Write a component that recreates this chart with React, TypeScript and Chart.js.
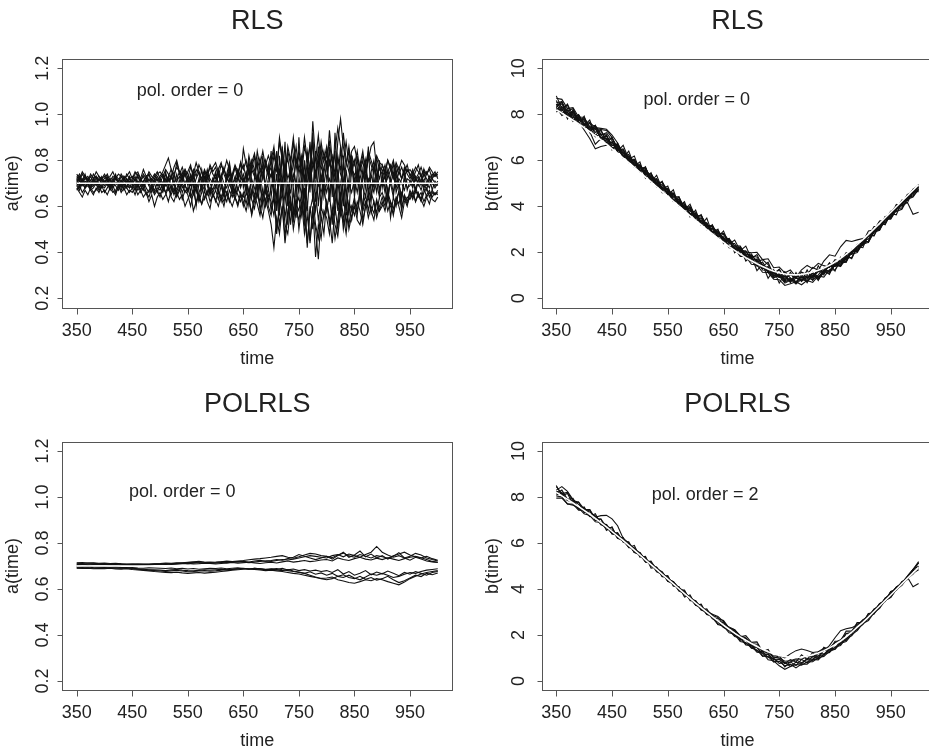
import { useEffect, useRef } from "react";
import { Chart, registerables } from "chart.js";

Chart.register(...registerables);

const FONT = '"Liberation Sans", Arial, Helvetica, sans-serif';

// ---------- time grids ----------
const TIME5 = [
  350, 355, 360, 365, 370, 375, 380, 385, 390, 395,
  400, 405, 410, 415, 420, 425, 430, 435, 440, 445,
  450, 455, 460, 465, 470, 475, 480, 485, 490, 495,
  500, 505, 510, 515, 520, 525, 530, 535, 540, 545,
  550, 555, 560, 565, 570, 575, 580, 585, 590, 595,
  600, 605, 610, 615, 620, 625, 630, 635, 640, 645,
  650, 655, 660, 665, 670, 675, 680, 685, 690, 695,
  700, 705, 710, 715, 720, 725, 730, 735, 740, 745,
  750, 755, 760, 765, 770, 775, 780, 785, 790, 795,
  800, 805, 810, 815, 820, 825, 830, 835, 840, 845,
  850, 855, 860, 865, 870, 875, 880, 885, 890, 895,
  900, 905, 910, 915, 920, 925, 930, 935, 940, 945,
  950, 955, 960, 965, 970, 975, 980, 985, 990, 995,
  1000,
];
const TIME10 = [
  350, 360, 370, 380, 390,
  400, 410, 420, 430, 440, 450, 460, 470, 480, 490,
  500, 510, 520, 530, 540, 550, 560, 570, 580, 590,
  600, 610, 620, 630, 640, 650, 660, 670, 680, 690,
  700, 710, 720, 730, 740, 750, 760, 770, 780, 790,
  800, 810, 820, 830, 840, 850, 860, 870, 880, 890,
  900, 910, 920, 930, 940, 950, 960, 970, 980, 990,
  1000,
];

// ---------- tick labels ----------
const X_TICKS = [350, 450, 550, 650, 750, 850, 950];
const A_TICKS = [0.2, 0.4, 0.6, 0.8, 1.0, 1.2];
const A_TICK_LABELS = ["0.2", "0.4", "0.6", "0.8", "1.0", "1.2"];
const B_TICKS = [0, 2, 4, 6, 8, 10];
const B_TICK_LABELS = ["0", "2", "4", "6", "8", "10"];

// ---------- true parameter values (white lines) ----------
const A_TRUE_TIME = [350, 1000];
const A_TRUE = [0.7, 0.7];
const B_TRUE = [
  8.20, 8.05, 7.90, 7.74, 7.58,
  7.42, 7.25, 7.07, 6.89, 6.70, 6.50, 6.30, 6.10, 5.90, 5.69,
  5.48, 5.27, 5.06, 4.85, 4.64, 4.43, 4.22, 4.01, 3.80, 3.59,
  3.39, 3.19, 2.99, 2.80, 2.61, 2.43, 2.25, 2.08, 1.92, 1.77,
  1.63, 1.50, 1.38, 1.27, 1.18, 1.11, 1.06, 1.03, 1.02, 1.04,
  1.08, 1.14, 1.22, 1.32, 1.44, 1.58, 1.74, 1.92, 2.12, 2.34,
  2.55, 2.78, 3.02, 3.26, 3.50, 3.74, 3.98, 4.22, 4.46, 4.70,
  4.94,
];

// ---------- RLS estimates of a(time) (TIME5) ----------
const RLS_A1 = [
  .72, .74, .71, .73, .72, .70, .72, .73, .71, .72,
  .73, .71, .72, .70, .73, .72, .71, .73, .72, .70,
  .72, .74, .75, .72, .70, .73, .71, .72, .74, .71,
  .73, .75, .78, .81, .76, .74, .77, .75, .72, .76,
  .74, .71, .76, .73, .78, .75, .72, .70, .74, .77,
  .79, .75, .72, .76, .73, .70, .74, .78, .75, .72,
  .85, .78, .74, .80, .76, .71, .78, .84, .77, .73,
  .80, .86, .75, .90, .81, .72, .84, .78, .88, .76,
  .82, .74, .86, .80, .72, .97, .80, .91, .78, .84,
  .76, .93, .80, .72, .88, .98, .86, .78, .84, .74,
  .80, .72, .78, .84, .75, .80, .86, .88, .76, .72,
  .78, .74, .80, .76, .72, .78, .74, .77, .73, .76,
  .74, .72, .75, .78, .73, .71, .74, .76, .72, .74,
  .73,
];
const RLS_A2 = [
  .68, .66, .64, .67, .65, .68, .66, .67, .69, .66,
  .67, .65, .68, .66, .67, .69, .66, .68, .65, .67,
  .66, .68, .65, .67, .64, .66, .62, .65, .60, .64,
  .66, .63, .65, .68, .64, .62, .66, .63, .65, .60,
  .63, .66, .58, .62, .65, .61, .64, .67, .62, .65,
  .63, .60, .65, .62, .66, .63, .60, .64, .61, .66,
  .62, .58, .64, .56, .62, .66, .60, .55, .63, .58,
  .52, .42, .55, .48, .60, .44, .56, .62, .50, .58,
  .54, .62, .48, .56, .45, .60, .38, .52, .46, .58,
  .55, .48, .60, .52, .47, .58, .53, .62, .50, .56,
  .60, .54, .52, .58, .62, .55, .60, .57, .63, .58,
  .62, .58, .64, .60, .57, .63, .60, .55, .62, .64,
  .63, .66, .62, .65, .63, .60, .64, .66, .63, .62,
  .64,
];
const RLS_A3 = [
  .70, .72, .69, .71, .70, .68, .71, .69, .72, .70,
  .71, .69, .72, .68, .70, .71, .69, .73, .70, .68,
  .71, .69, .73, .70, .68, .71, .69, .72, .70, .66,
  .70, .73, .69, .72, .67, .74, .70, .68, .73, .69,
  .72, .66, .74, .69, .71, .67, .73, .70, .66, .72,
  .68, .74, .70, .65, .72, .76, .69, .73, .67, .71,
  .74, .68, .77, .64, .72, .80, .66, .74, .70, .62,
  .68, .76, .58, .82, .66, .74, .60, .79, .68, .55,
  .72, .64, .80, .58, .76, .66, .84, .60, .74, .68,
  .80, .62, .74, .84, .58, .70, .78, .64, .72, .82,
  .66, .76, .62, .72, .80, .64, .74, .68, .78, .66,
  .72, .66, .76, .70, .64, .74, .68, .72, .76, .67,
  .71, .68, .73, .69, .72, .70, .67, .72, .70, .69,
  .71,
];
const RLS_A4 = [
  .73, .71, .74, .72, .73, .71, .74, .72, .73, .71,
  .72, .74, .71, .73, .72, .74, .73, .71, .74, .72,
  .73, .71, .74, .72, .76, .73, .74, .71, .73, .75,
  .72, .74, .70, .73, .76, .72, .79, .74, .77, .73,
  .75, .78, .72, .76, .74, .70, .75, .73, .77, .74,
  .72, .76, .79, .74, .71, .75, .73, .77, .72, .75,
  .78, .72, .82, .76, .73, .84, .77, .72, .80, .75,
  .73, .82, .77, .70, .85, .76, .81, .72, .78, .86,
  .74, .80, .70, .84, .76, .88, .72, .82, .76, .80,
  .86, .78, .82, .74, .80, .76, .92, .80, .75, .82,
  .78, .84, .75, .80, .72, .82, .78, .74, .81, .76,
  .74, .78, .72, .76, .80, .74, .77, .72, .75, .78,
  .73, .76, .72, .74, .77, .73, .75, .72, .74, .73,
  .74,
];
const RLS_A5 = [
  .69, .67, .70, .68, .69, .67, .68, .70, .67, .69,
  .68, .70, .67, .69, .66, .68, .70, .67, .69, .68,
  .69, .67, .70, .66, .68, .65, .67, .69, .66, .68,
  .67, .70, .66, .69, .65, .68, .64, .67, .70, .66,
  .68, .64, .67, .61, .66, .69, .63, .66, .68, .64,
  .67, .63, .69, .65, .62, .67, .64, .68, .65, .62,
  .66, .61, .68, .63, .59, .66, .62, .68, .60, .65,
  .62, .56, .66, .52, .60, .47, .58, .64, .54, .61,
  .58, .66, .52, .62, .44, .57, .50, .37, .56, .48,
  .62, .55, .44, .60, .50, .63, .56, .48, .60, .54,
  .62, .58, .66, .54, .60, .64, .57, .62, .55, .60,
  .64, .60, .66, .62, .59, .64, .61, .66, .63, .60,
  .66, .63, .67, .64, .66, .62, .65, .67, .64, .66,
  .65,
];
const RLS_A6 = [
  .71, .73, .70, .72, .71, .73, .70, .72, .71, .73,
  .70, .72, .71, .69, .72, .70, .73, .71, .70, .72,
  .70, .72, .69, .71, .73, .70, .72, .69, .71, .73,
  .71, .69, .74, .71, .73, .70, .72, .75, .71, .74,
  .70, .73, .68, .72, .75, .71, .69, .74, .72, .70,
  .74, .70, .73, .77, .71, .74, .68, .72, .76, .73,
  .70, .75, .71, .78, .74, .69, .76, .72, .79, .74,
  .77, .70, .80, .74, .68, .79, .72, .76, .70, .81,
  .76, .82, .72, .78, .70, .80, .74, .86, .70, .77,
  .72, .80, .76, .70, .82, .74, .70, .78, .86, .76,
  .74, .70, .79, .72, .76, .70, .75, .80, .72, .77,
  .76, .72, .75, .78, .73, .70, .75, .72, .77, .74,
  .72, .75, .71, .73, .70, .74, .72, .70, .73, .75,
  .72,
];
const RLS_A7 = [
  .70, .68, .71, .69, .70, .68, .69, .71, .68, .70,
  .69, .71, .68, .70, .69, .67, .70, .68, .71, .69,
  .68, .70, .67, .69, .71, .68, .66, .69, .67, .70,
  .68, .66, .70, .67, .69, .65, .68, .70, .66, .69,
  .67, .70, .65, .68, .62, .66, .69, .65, .68, .66,
  .69, .66, .62, .68, .65, .70, .66, .63, .68, .65,
  .64, .69, .60, .67, .63, .70, .58, .66, .62, .68,
  .58, .66, .48, .62, .70, .55, .64, .52, .66, .60,
  .64, .56, .68, .42, .60, .50, .66, .54, .62, .70,
  .58, .66, .52, .68, .60, .56, .66, .52, .62, .58,
  .64, .56, .68, .60, .65, .58, .66, .62, .57, .64,
  .66, .62, .68, .55, .64, .60, .67, .58, .65, .62,
  .67, .64, .68, .65, .62, .66, .68, .64, .67, .65,
  .67,
];
const RLS_A8 = [
  .71, .69, .72, .70, .71, .69, .72, .70, .72, .71,
  .70, .72, .69, .71, .73, .70, .71, .69, .72, .70,
  .71, .73, .70, .72, .69, .71, .74, .70, .72, .69,
  .72, .70, .75, .68, .73, .70, .74, .67, .71, .75,
  .69, .74, .71, .60, .70, .76, .68, .73, .65, .71,
  .75, .68, .72, .66, .74, .79, .70, .66, .73, .68,
  .72, .66, .80, .70, .64, .74, .68, .82, .66, .72,
  .84, .64, .74, .56, .86, .68, .52, .74, .82, .64,
  .90, .70, .58, .78, .66, .92, .62, .74, .86, .64,
  .70, .86, .64, .92, .72, .58, .82, .68, .56, .78,
  .70, .82, .64, .76, .68, .86, .64, .72, .66, .80,
  .68, .76, .64, .72, .79, .66, .70, .62, .74, .70,
  .70, .74, .67, .72, .69, .76, .70, .68, .72, .70,
  .70,
];
const RLS_A9 = [
  .72, .69, .71, .74, .70, .68, .71, .73, .69, .72,
  .70, .73, .69, .71, .74, .70, .68, .72, .70, .73,
  .69, .72, .70, .67, .71, .73, .69, .66, .70, .72,
  .70, .67, .72, .69, .74, .70, .66, .71, .75, .69,
  .66, .71, .74, .68, .63, .70, .75, .69, .65, .72,
  .70, .76, .69, .64, .72, .78, .70, .65, .73, .79,
  .68, .74, .62, .76, .82, .66, .72, .60, .70, .78,
  .64, .74, .84, .60, .70, .88, .62, .78, .56, .72,
  .66, .82, .56, .74, .88, .62, .70, .80, .58, .76,
  .84, .64, .78, .56, .70, .86, .60, .76, .66, .82,
  .64, .76, .70, .58, .80, .68, .62, .78, .70, .64,
  .74, .68, .62, .72, .66, .76, .70, .64, .72, .68,
  .69, .72, .66, .71, .74, .68, .70, .73, .67, .71,
  .69,
];
const RLS_A10 = [
  .67, .69, .66, .68, .70, .67, .65, .68, .66, .69,
  .66, .68, .70, .67, .65, .69, .67, .70, .68, .66,
  .68, .65, .69, .67, .70, .66, .64, .68, .65, .67,
  .64, .68, .66, .62, .67, .70, .65, .68, .63, .67,
  .65, .60, .66, .69, .64, .61, .67, .62, .59, .66,
  .62, .67, .64, .60, .66, .62, .68, .64, .60, .65,
  .60, .66, .63, .57, .65, .61, .56, .64, .68, .60,
  .56, .64, .50, .58, .66, .52, .48, .60, .54, .64,
  .50, .60, .56, .44, .58, .64, .52, .46, .60, .55,
  .62, .52, .58, .46, .54, .64, .50, .58, .52, .60,
  .56, .62, .58, .52, .60, .66, .58, .54, .62, .58,
  .60, .64, .58, .62, .56, .63, .66, .60, .64, .61,
  .64, .67, .62, .66, .63, .68, .64, .61, .66, .65,
  .66,
];
const RLS_A11 = [
  .74, .72, .75, .73, .71, .74, .72, .75, .73, .72,
  .74, .72, .73, .75, .72, .71, .74, .72, .73, .75,
  .72, .75, .73, .71, .74, .72, .75, .73, .72, .74,
  .75, .73, .76, .74, .72, .77, .80, .75, .73, .76,
  .72, .77, .74, .79, .75, .72, .76, .73, .78, .75,
  .77, .73, .78, .75, .80, .76, .72, .77, .74, .79,
  .76, .80, .74, .79, .83, .76, .81, .74, .78, .82,
  .78, .84, .76, .88, .80, .74, .86, .80, .90, .78,
  .84, .78, .90, .80, .86, .76, .82, .78, .88, .80,
  .82, .88, .78, .84, .94, .86, .80, .88, .78, .84,
  .86, .80, .76, .82, .78, .84, .80, .76, .82, .79,
  .78, .75, .80, .77, .74, .79, .76, .80, .78, .75,
  .76, .74, .77, .75, .73, .76, .74, .77, .75, .73,
  .75,
];
const RLS_A12 = [
  .69, .71, .70, .68, .72, .70, .69, .71, .70, .68,
  .71, .70, .68, .72, .70, .69, .71, .70, .68, .71,
  .70, .68, .71, .69, .67, .72, .70, .68, .71, .69,
  .71, .68, .70, .73, .69, .66, .71, .73, .68, .70,
  .73, .69, .70, .66, .72, .68, .71, .76, .70, .67,
  .71, .66, .74, .70, .68, .72, .66, .70, .74, .69,
  .72, .70, .66, .72, .68, .64, .72, .78, .66, .70,
  .74, .68, .64, .76, .72, .62, .70, .66, .74, .70,
  .68, .72, .64, .70, .78, .68, .58, .70, .66, .72,
  .66, .72, .68, .60, .76, .64, .72, .58, .70, .66,
  .72, .66, .74, .68, .64, .72, .70, .66, .74, .68,
  .70, .73, .66, .70, .74, .68, .72, .70, .67, .72,
  .71, .69, .72, .70, .67, .71, .69, .72, .70, .68,
  .70,
];

// ---------- POLRLS estimates of a(time) (TIME10) ----------
const POL_A1 = [
  .712, .711, .713, .712, .710,
  .711, .709, .710, .708, .707, .706, .708, .707, .709, .710,
  .711, .713, .712, .714, .713, .715, .716, .714, .715, .717,
  .716, .718, .715, .717, .719, .716, .714, .717, .720, .722,
  .720, .724, .728, .726, .730, .735, .740, .745, .742, .738,
  .735, .745, .750, .740, .752, .745, .738, .750, .760, .785,
  .760, .748, .738, .745, .735, .742, .755, .748, .735, .728,
  .722,
];
const POL_A2 = [
  .695, .694, .696, .693, .692,
  .693, .691, .690, .692, .689, .688, .686, .684, .682, .680,
  .678, .676, .679, .681, .678, .675, .676, .678, .680, .677,
  .679, .682, .684, .686, .688, .690, .687, .685, .683, .680,
  .682, .679, .676, .672, .668, .665, .660, .655, .650, .646,
  .648, .652, .640, .635, .628, .625, .632, .640, .636, .645,
  .640, .632, .625, .618, .630, .645, .655, .665, .672, .676,
  .680,
];
const POL_A3 = [
  .706, .707, .705, .706, .707,
  .706, .705, .706, .704, .705, .703, .704, .705, .706, .707,
  .708, .709, .707, .708, .710, .711, .709, .710, .712, .711,
  .709, .711, .713, .715, .712, .714, .716, .713, .711, .714,
  .716, .713, .718, .722, .717, .720, .724, .719, .722, .726,
  .728, .722, .735, .728, .724, .732, .738, .730, .726, .734,
  .728, .736, .730, .724, .732, .738, .742, .736, .728, .720,
  .716,
];
const POL_A4 = [
  .692, .691, .692, .690, .691,
  .690, .692, .691, .690, .692, .693, .691, .690, .692, .691,
  .690, .689, .691, .688, .690, .687, .689, .686, .688, .690,
  .689, .691, .688, .690, .692, .689, .687, .690, .688, .686,
  .688, .685, .690, .683, .687, .680, .684, .678, .682, .676,
  .680, .672, .684, .665, .676, .660, .668, .680, .662, .674,
  .666, .678, .668, .658, .672, .664, .676, .668, .660, .672,
  .676,
];
const POL_A5 = [
  .714, .715, .713, .714, .712,
  .713, .711, .712, .710, .709, .710, .708, .709, .707, .708,
  .709, .707, .710, .712, .714, .716, .718, .720, .717, .715,
  .716, .718, .721, .719, .722, .724, .727, .730, .732, .735,
  .738, .742, .745, .738, .734, .740, .748, .755, .752, .745,
  .742, .736, .748, .756, .744, .738, .750, .742, .735, .745,
  .740, .734, .745, .752, .760, .748, .740, .735, .742, .732,
  .725,
];
const POL_A6 = [
  .700, .698, .699, .697, .696,
  .697, .695, .696, .694, .693, .690, .688, .686, .684, .683,
  .682, .680, .683, .685, .682, .680, .679, .681, .684, .682,
  .684, .686, .683, .685, .687, .689, .686, .690, .688, .685,
  .686, .689, .684, .680, .676, .672, .668, .660, .652, .645,
  .640, .645, .655, .650, .660, .648, .640, .652, .665, .660,
  .668, .660, .650, .655, .664, .672, .668, .676, .682, .685,
  .688,
];
const POL_A7 = [
  .708, .709, .708, .710, .709,
  .708, .707, .709, .708, .706, .705, .704, .706, .705, .707,
  .708, .710, .709, .711, .712, .710, .712, .714, .713, .711,
  .712, .715, .713, .716, .718, .720, .717, .722, .725, .721,
  .724, .728, .725, .732, .738, .750, .742, .735, .728, .735,
  .742, .730, .745, .760, .738, .748, .765, .740, .752, .735,
  .745, .730, .742, .758, .735, .725, .738, .730, .722, .718,
  .715,
];
const POL_A8 = [
  .690, .689, .690, .688, .689,
  .688, .690, .687, .686, .688, .685, .683, .681, .679, .676,
  .674, .672, .671, .673, .670, .668, .670, .672, .669, .671,
  .673, .676, .679, .682, .684, .686, .688, .685, .687, .684,
  .686, .683, .680, .685, .678, .674, .668, .675, .664, .670,
  .660, .668, .655, .662, .650, .645, .655, .642, .650, .638,
  .645, .655, .640, .628, .636, .648, .660, .654, .668, .662,
  .670,
];

// ---------- RLS estimates of b(time) (TIME10) ----------
const RLS_B1 = [
  8.50, 8.55, 8.00, 8.14, 7.78,
  7.77, 7.30, 7.37, 7.34, 7.30, 7.00, 6.50, 6.45, 6.00, 5.99,
  5.63, 5.67, 5.16, 5.15, 4.69, 4.78, 4.42, 4.41, 3.90, 3.89,
  3.44, 3.49, 3.14, 3.15, 2.71, 2.68, 2.25, 2.28, 2.27, 1.87,
  1.93, 1.55, 1.28, 1.37, 0.98, 1.06, 0.81, 1.03, 0.87, 1.14,
  0.88, 1.14, 0.92, 1.22, 1.54, 1.38, 1.74, 1.67, 2.07, 2.04,
  2.45, 2.48, 3.02, 3.06, 3.45, 3.49, 3.88, 4.27, 4.26, 4.70,
  4.84,
];
const RLS_B2 = [
  8.10, 8.25, 7.85, 8.04, 7.68,
  7.32, 6.95, 6.50, 6.60, 6.65, 6.80, 6.40, 6.45, 5.90, 5.94,
  5.53, 5.57, 5.16, 5.20, 4.79, 4.73, 4.27, 4.26, 3.90, 3.94,
  3.54, 3.59, 3.19, 3.10, 2.71, 2.78, 2.40, 2.38, 1.97, 2.02,
  1.73, 1.45, 1.58, 1.17, 1.23, 0.91, 1.16, 0.88, 0.72, 0.94,
  0.83, 1.09, 0.87, 1.17, 1.14, 1.48, 1.49, 1.92, 1.92, 1.99,
  2.40, 2.48, 2.92, 3.01, 3.50, 3.54, 3.93, 3.92, 4.36, 4.45,
  4.74,
];
const RLS_B3 = [
  8.60, 8.15, 8.45, 7.94, 7.93,
  7.57, 7.65, 7.42, 7.39, 7.35, 7.10, 6.75, 6.30, 6.25, 5.79,
  5.78, 5.32, 5.31, 4.85, 4.84, 4.53, 4.52, 4.01, 4.00, 3.64,
  3.64, 3.19, 3.19, 2.85, 2.91, 2.53, 2.50, 2.08, 2.07, 1.82,
  1.58, 1.65, 1.23, 1.22, 0.88, 1.01, 0.71, 0.83, 0.62, 0.84,
  0.73, 0.99, 0.82, 1.12, 1.09, 1.48, 1.44, 1.77, 1.77, 2.24,
  2.30, 2.73, 2.72, 3.16, 3.25, 3.69, 3.78, 3.87, 4.31, 4.40,
  4.74,
];
const RLS_B4 = [
  8.40, 8.50, 8.15, 8.24, 7.73,
  7.82, 7.45, 7.52, 7.14, 7.10, 6.65, 6.65, 6.20, 6.20, 5.84,
  5.83, 5.37, 5.36, 5.00, 5.04, 4.63, 4.57, 4.11, 4.10, 3.79,
  3.74, 3.34, 3.29, 2.90, 2.86, 2.58, 2.60, 2.28, 2.02, 2.02,
  1.98, 2.00, 1.68, 1.72, 1.33, 1.36, 1.11, 1.23, 0.92, 1.14,
  1.03, 1.34, 1.22, 1.62, 1.89, 1.83, 2.24, 2.52, 2.47, 2.54,
  2.60, 2.68, 3.12, 3.11, 3.50, 3.54, 3.93, 4.12, 4.51, 4.60,
  4.94,
];
const RLS_B5 = [
  8.30, 7.95, 8.10, 7.69, 7.83,
  7.42, 7.45, 7.02, 7.14, 6.70, 6.80, 6.35, 6.35, 5.95, 5.89,
  5.48, 5.52, 5.11, 5.05, 4.59, 4.58, 4.22, 4.21, 3.85, 3.84,
  3.39, 3.39, 3.04, 3.05, 2.61, 2.63, 2.20, 2.18, 1.82, 1.82,
  1.48, 1.45, 1.13, 1.12, 0.83, 0.81, 0.56, 0.63, 0.72, 0.59,
  0.78, 0.69, 0.97, 0.92, 1.24, 1.23, 1.59, 1.62, 2.02, 2.09,
  2.35, 2.43, 2.87, 2.96, 3.40, 3.49, 3.93, 4.02, 4.16, 3.65,
  3.74,
];
const RLS_B6 = [
  8.45, 8.05, 8.20, 7.84, 7.98,
  7.62, 7.30, 7.37, 6.99, 7.05, 6.65, 6.70, 6.30, 5.95, 5.99,
  5.58, 5.62, 5.26, 4.90, 4.94, 4.53, 4.57, 4.16, 4.10, 3.59,
  3.59, 3.24, 3.24, 2.90, 2.91, 2.48, 2.45, 2.18, 2.17, 1.82,
  1.78, 1.45, 1.48, 1.12, 1.13, 0.91, 0.96, 0.73, 0.87, 0.79,
  0.98, 0.89, 1.17, 1.12, 1.44, 1.43, 1.44, 1.82, 1.92, 2.29,
  2.35, 2.73, 2.87, 3.26, 3.30, 3.64, 3.98, 4.07, 4.41, 4.50,
  4.84,
];
const RLS_B7 = [
  8.20, 8.35, 7.95, 8.09, 7.73,
  7.72, 7.35, 7.47, 7.09, 7.20, 6.85, 6.45, 6.50, 6.05, 6.04,
  5.68, 5.67, 5.21, 5.15, 4.74, 4.78, 4.37, 4.31, 3.85, 3.94,
  3.49, 3.49, 3.04, 3.00, 2.96, 2.58, 2.55, 2.13, 2.12, 1.77,
  1.88, 1.60, 1.68, 1.47, 1.08, 1.26, 0.86, 1.03, 0.92, 1.24,
  1.43, 1.29, 1.52, 1.42, 1.34, 1.68, 1.59, 1.97, 1.92, 2.34,
  2.45, 2.93, 2.97, 3.36, 3.40, 3.79, 3.83, 4.22, 4.36, 4.75,
  4.89,
];
const RLS_B8 = [
  8.70, 8.65, 8.25, 8.29, 7.88,
  7.87, 7.45, 7.37, 6.99, 6.95, 6.55, 6.60, 6.20, 6.15, 5.69,
  5.73, 5.37, 5.36, 4.90, 4.84, 4.58, 4.52, 4.11, 4.05, 3.69,
  3.69, 3.29, 3.24, 2.85, 2.81, 2.53, 2.50, 2.13, 2.07, 2.07,
  1.68, 1.70, 1.33, 1.37, 0.98, 1.06, 0.76, 0.88, 0.67, 0.94,
  0.78, 0.99, 0.87, 1.22, 1.19, 1.53, 1.54, 1.57, 2.02, 2.14,
  2.50, 2.58, 3.02, 3.11, 3.55, 3.64, 4.03, 4.07, 4.46, 4.60,
  4.79,
];
const RLS_B9 = [
  8.35, 8.45, 8.10, 7.74, 7.88,
  7.52, 7.60, 7.22, 7.29, 6.90, 6.95, 6.55, 6.15, 6.15, 5.79,
  5.78, 5.42, 5.41, 5.05, 5.04, 4.68, 4.27, 4.31, 3.95, 3.99,
  3.59, 3.59, 3.14, 3.15, 2.81, 2.83, 2.50, 2.18, 2.22, 1.92,
  1.83, 1.80, 1.43, 1.17, 0.93, 0.96, 0.66, 0.78, 0.92, 0.74,
  0.93, 0.79, 1.02, 1.32, 1.14, 1.43, 1.39, 1.72, 2.07, 2.04,
  2.40, 2.48, 2.92, 3.01, 3.45, 3.44, 3.83, 4.22, 4.26, 4.60,
  4.69,
];
const RLS_B10 = [
  8.20, 8.20, 7.95, 7.94, 7.58,
  7.57, 7.25, 6.70, 6.94, 6.85, 6.50, 6.50, 6.15, 6.05, 5.69,
  5.58, 5.47, 5.06, 5.00, 4.69, 4.63, 4.22, 4.16, 3.80, 3.69,
  3.59, 3.19, 3.14, 2.80, 2.71, 2.63, 2.25, 2.18, 1.87, 1.87,
  1.63, 1.40, 1.43, 1.12, 1.13, 0.91, 0.96, 0.78, 0.97, 0.89,
  0.98, 0.94, 1.22, 1.17, 1.39, 1.38, 1.64, 1.97, 2.02, 2.34,
  2.40, 2.78, 2.92, 3.31, 3.40, 3.74, 4.03, 4.12, 4.46, 4.70,
  4.94,
];
const RLS_B11 = [
  8.80, 8.25, 8.40, 7.74, 7.98,
  7.52, 7.75, 7.07, 7.34, 6.75, 7.00, 6.40, 6.65, 6.05, 6.19,
  5.53, 5.72, 5.06, 5.35, 4.74, 4.88, 4.22, 4.41, 3.85, 4.09,
  3.49, 3.64, 2.99, 3.20, 2.66, 2.93, 2.35, 2.53, 2.07, 2.27,
  1.73, 1.90, 1.38, 1.57, 0.98, 1.26, 0.76, 1.13, 0.67, 1.04,
  0.68, 1.09, 0.77, 1.22, 1.04, 1.58, 1.39, 1.87, 1.72, 2.24,
  2.20, 2.78, 2.72, 3.31, 3.20, 3.69, 3.63, 4.22, 4.16, 4.65,
  4.64,
];
const RLS_B12 = [
  8.30, 8.55, 7.80, 8.19, 7.58,
  7.92, 7.20, 7.52, 6.89, 7.10, 6.45, 6.75, 6.10, 6.40, 5.74,
  5.93, 5.22, 5.46, 4.85, 5.09, 4.48, 4.72, 4.01, 4.20, 3.54,
  3.84, 3.19, 3.49, 2.80, 3.01, 2.38, 2.60, 1.98, 2.22, 1.62,
  1.83, 1.20, 1.48, 0.87, 1.23, 0.66, 1.06, 0.68, 1.12, 0.74,
  1.23, 0.79, 1.42, 1.02, 1.54, 1.18, 1.79, 1.57, 2.12, 2.04,
  2.60, 2.43, 3.02, 2.96, 3.55, 3.49, 4.08, 4.02, 4.51, 4.55,
  4.94,
];

// ---------- POLRLS estimates of b(time) (TIME10) ----------
const POL_B1 = [
  8.45, 8.15, 8.20, 7.84, 7.78,
  7.47, 7.45, 7.07, 7.04, 6.70, 6.65, 6.25, 6.20, 5.85, 5.79,
  5.48, 5.37, 5.01, 4.95, 4.64, 4.53, 4.17, 4.06, 3.75, 3.69,
  3.39, 3.29, 2.94, 2.85, 2.61, 2.53, 2.20, 2.13, 1.82, 1.77,
  1.53, 1.45, 1.18, 1.17, 0.93, 0.96, 0.76, 0.83, 0.92, 0.79,
  0.93, 0.89, 1.12, 1.12, 1.39, 1.43, 1.74, 1.82, 2.17, 2.29,
  2.60, 2.73, 3.12, 3.26, 3.60, 3.79, 4.08, 4.22, 4.56, 4.85,
  5.14,
];
const POL_B2 = [
  7.95, 7.95, 7.70, 7.69, 7.43,
  7.42, 7.15, 7.12, 6.79, 6.70, 6.40, 6.35, 6.05, 5.95, 5.59,
  5.48, 5.17, 5.11, 4.80, 4.69, 4.33, 4.22, 3.96, 3.85, 3.54,
  3.44, 3.14, 3.04, 2.70, 2.61, 2.33, 2.20, 1.93, 1.87, 1.57,
  1.53, 1.25, 1.23, 0.92, 0.88, 0.66, 0.51, 0.63, 0.72, 0.69,
  0.83, 0.84, 1.02, 1.07, 1.29, 1.38, 1.64, 1.72, 2.02, 2.19,
  2.50, 2.63, 2.97, 3.16, 3.50, 3.64, 3.98, 4.17, 4.51, 4.70,
  4.84,
];
const POL_B3 = [
  8.30, 8.45, 8.25, 7.89, 7.68,
  7.47, 7.35, 7.12, 7.19, 7.20, 7.05, 6.75, 6.20, 6.00, 5.74,
  5.58, 5.27, 5.16, 4.90, 4.74, 4.43, 4.32, 4.06, 3.90, 3.59,
  3.49, 3.19, 3.09, 2.85, 2.76, 2.43, 2.35, 2.23, 1.97, 1.87,
  1.63, 1.60, 1.33, 1.27, 1.08, 1.11, 1.01, 1.18, 1.32, 1.39,
  1.33, 1.24, 1.27, 1.42, 1.44, 1.68, 1.79, 2.07, 2.12, 2.39,
  2.65, 2.78, 3.07, 3.36, 3.50, 3.79, 4.08, 4.22, 4.51, 4.80,
  5.14,
];
const POL_B4 = [
  8.10, 8.15, 7.85, 7.79, 7.48,
  7.47, 7.20, 7.17, 6.84, 6.75, 6.40, 6.35, 6.05, 5.95, 5.59,
  5.53, 5.22, 5.11, 4.75, 4.64, 4.38, 4.27, 3.91, 3.80, 3.54,
  3.39, 3.09, 2.99, 2.75, 2.46, 2.38, 2.10, 2.03, 1.72, 1.67,
  1.43, 1.35, 1.08, 1.07, 0.83, 0.86, 0.66, 0.73, 0.57, 0.74,
  0.73, 0.94, 0.92, 1.17, 1.24, 1.48, 1.54, 1.87, 1.97, 2.29,
  2.45, 2.78, 2.92, 3.21, 3.55, 3.69, 4.03, 4.22, 4.51, 4.10,
  4.24,
];
const POL_B5 = [
  8.25, 8.20, 7.85, 7.84, 7.53,
  7.52, 7.25, 7.17, 6.84, 6.80, 6.50, 6.40, 6.10, 5.95, 5.64,
  5.58, 5.27, 5.11, 4.80, 4.69, 4.43, 4.32, 4.01, 3.85, 3.59,
  3.44, 3.14, 3.04, 2.90, 2.81, 2.58, 2.30, 2.18, 1.92, 1.82,
  1.58, 1.50, 1.28, 1.22, 1.03, 1.01, 0.86, 0.88, 0.97, 0.94,
  1.08, 1.04, 1.27, 1.32, 1.54, 1.88, 2.19, 2.27, 2.32, 2.44,
  2.65, 2.83, 3.12, 3.26, 3.60, 3.79, 4.08, 4.27, 4.56, 4.85,
  5.19,
];
const POL_B6 = [
  8.05, 8.00, 7.70, 7.64, 7.53,
  7.27, 7.20, 6.92, 6.89, 6.60, 6.55, 6.20, 6.10, 5.80, 5.74,
  5.43, 5.32, 5.01, 4.90, 4.54, 4.48, 4.17, 4.06, 3.75, 3.59,
  3.29, 3.19, 2.89, 2.80, 2.56, 2.33, 2.25, 1.98, 1.87, 1.62,
  1.58, 1.30, 1.28, 1.02, 0.98, 0.76, 0.81, 0.63, 0.82, 0.74,
  0.98, 0.94, 1.22, 1.17, 1.39, 1.38, 1.69, 1.77, 2.12, 2.24,
  2.55, 2.68, 3.07, 3.21, 3.50, 3.64, 3.98, 4.17, 4.46, 4.65,
  4.94,
];
const POL_B7 = [
  8.50, 8.05, 8.15, 7.69, 7.78,
  7.32, 7.45, 6.97, 7.04, 6.55, 6.70, 6.20, 6.25, 5.80, 5.89,
  5.38, 5.42, 4.91, 4.95, 4.54, 4.58, 4.12, 4.11, 3.65, 3.74,
  3.29, 3.34, 2.89, 2.90, 2.46, 2.58, 2.20, 2.18, 1.77, 1.87,
  1.43, 1.50, 1.08, 1.17, 0.83, 0.96, 0.61, 0.83, 0.67, 0.94,
  0.78, 1.09, 0.97, 1.37, 1.24, 1.68, 1.59, 2.07, 2.02, 2.54,
  2.50, 2.93, 2.92, 3.36, 3.45, 3.89, 3.98, 4.32, 4.41, 4.85,
  4.99,
];
const POL_B8 = [
  8.15, 8.30, 7.90, 7.94, 7.48,
  7.57, 7.15, 7.27, 6.84, 6.80, 6.40, 6.45, 6.05, 6.05, 5.59,
  5.58, 5.17, 5.21, 4.80, 4.74, 4.33, 4.32, 3.96, 3.95, 3.49,
  3.49, 3.09, 3.14, 2.75, 2.71, 2.63, 2.30, 2.23, 1.92, 1.97,
  1.68, 1.70, 1.28, 1.37, 0.98, 1.11, 0.76, 0.93, 0.82, 1.14,
  0.93, 1.24, 1.02, 1.47, 1.34, 1.73, 1.74, 2.17, 2.17, 2.54,
  2.55, 2.93, 2.97, 3.36, 3.50, 3.89, 3.93, 4.32, 4.46, 4.80,
  4.89,
];

// ---------- helpers ----------
type Note = { text: string; x: number; y: number };
type PanelSpec = {
  left: number;
  top: number;
  width: number;
  height: number;
  padding: { left: number; top: number; right: number; bottom: number };
  yMin: number;
  yMax: number;
  yTicks: number[];
  yTickLabels: string[];
  yLabelGap: number;
  title: string;
  yTitle: string;
  note: Note;
  estTime: number[];
  estimates: number[][];
  trueTime: number[];
  trueVals: number[];
};

const pts = (t: number[], v: number[]) => t.map((x, i) => ({ x, y: v[i] }));

const TEXT = "#222222";
const BOX = "#555555";

function makeOverlay(spec: PanelSpec) {
  return {
    id: "rstyle",
    afterDraw(chart: any) {
      const { ctx, chartArea: ca, scales } = chart;
      const xs = scales.x;
      const ys = scales.y;
      ctx.save();
      ctx.strokeStyle = BOX;
      ctx.lineWidth = 1;
      const l = Math.round(ca.left) + 0.5;
      const t = Math.round(ca.top) + 0.5;
      const r = Math.round(ca.right) + 0.5;
      const b = Math.round(ca.bottom) + 0.5;
      ctx.strokeRect(l, t, r - l, b - t);
      ctx.beginPath();
      for (const v of X_TICKS) {
        const px = Math.round(xs.getPixelForValue(v)) + 0.5;
        ctx.moveTo(px, b);
        ctx.lineTo(px, b + 6);
      }
      for (const v of spec.yTicks) {
        const py = Math.round(ys.getPixelForValue(v)) + 0.5;
        ctx.moveTo(l, py);
        ctx.lineTo(l - 5, py);
      }
      ctx.stroke();
      ctx.fillStyle = TEXT;
      ctx.font = `18px ${FONT}`;
      ctx.textAlign = "center";
      ctx.textBaseline = "alphabetic";
      for (const v of X_TICKS) {
        ctx.fillText(String(v), xs.getPixelForValue(v), ca.bottom + 28);
      }
      ctx.fillText("time", (ca.left + ca.right) / 2, ca.bottom + 56);
      spec.yTicks.forEach((v, i) => {
        ctx.save();
        ctx.translate(ca.left - spec.yLabelGap, ys.getPixelForValue(v));
        ctx.rotate(-Math.PI / 2);
        ctx.fillText(spec.yTickLabels[i], 0, 0);
        ctx.restore();
      });
      ctx.save();
      ctx.translate(ca.left - 44, (ca.top + ca.bottom) / 2);
      ctx.rotate(-Math.PI / 2);
      ctx.fillText(spec.yTitle, 0, 0);
      ctx.restore();
      ctx.textBaseline = "middle";
      ctx.fillText(spec.note.text, xs.getPixelForValue(spec.note.x), ys.getPixelForValue(spec.note.y));
      ctx.textBaseline = "alphabetic";
      ctx.font = `27px ${FONT}`;
      ctx.fillText(spec.title, (ca.left + ca.right) / 2, ca.top - 30);
      ctx.restore();
    },
  };
}

function Panel({ spec }: { spec: PanelSpec }) {
  const ref = useRef<HTMLCanvasElement | null>(null);
  useEffect(() => {
    if (!ref.current) return;
    const datasets: any[] = [
      {
        data: pts(spec.trueTime, spec.trueVals),
        borderColor: "#ffffff",
        borderWidth: 1.6,
        pointRadius: 0,
        tension: 0,
      },
      ...spec.estimates.map((vals) => ({
        data: pts(spec.estTime, vals),
        borderColor: "#111111",
        borderWidth: 1.1,
        pointRadius: 0,
        tension: 0,
      })),
    ];
    const chart = new Chart(ref.current, {
      type: "line",
      data: { datasets },
      options: {
        responsive: false,
        animation: false,
        events: [],
        layout: { padding: spec.padding },
        plugins: { legend: { display: false }, tooltip: { enabled: false }, title: { display: false } },
        scales: {
          x: { type: "linear", min: 324, max: 1026, display: false },
          y: { type: "linear", min: spec.yMin, max: spec.yMax, display: false },
        },
      },
      plugins: [makeOverlay(spec)],
    });
    return () => chart.destroy();
  }, [spec]);
  return (
    <canvas
      ref={ref}
      width={spec.width}
      height={spec.height}
      style={{ position: "absolute", left: spec.left, top: spec.top, width: spec.width, height: spec.height }}
    />
  );
}

const PANELS: PanelSpec[] = [
  {
    left: 0, top: 0, width: 470, height: 376,
    padding: { left: 62.3, top: 59.1, right: 17.8, bottom: 68.5 },
    yMin: 0.16, yMax: 1.24, yTicks: A_TICKS, yTickLabels: A_TICK_LABELS, yLabelGap: 14,
    title: "RLS", yTitle: "a(time)",
    note: { text: "pol. order = 0", x: 554, y: 1.10 },
    estTime: TIME5,
    estimates: [RLS_A1, RLS_A2, RLS_A3, RLS_A4, RLS_A5, RLS_A6, RLS_A7, RLS_A8, RLS_A9, RLS_A10, RLS_A11, RLS_A12],
    trueTime: A_TRUE_TIME, trueVals: A_TRUE,
  },
  {
    left: 470, top: 0, width: 470, height: 376,
    padding: { left: 71.8, top: 59.1, right: 6.9, bottom: 68.5 },
    yMin: -0.4, yMax: 10.4, yTicks: B_TICKS, yTickLabels: B_TICK_LABELS, yLabelGap: 18,
    title: "RLS", yTitle: "b(time)",
    note: { text: "pol. order = 0", x: 602, y: 8.62 },
    estTime: TIME10,
    estimates: [RLS_B1, RLS_B2, RLS_B3, RLS_B4, RLS_B5, RLS_B6, RLS_B7, RLS_B8, RLS_B9, RLS_B10, RLS_B11, RLS_B12],
    trueTime: TIME10, trueVals: B_TRUE,
  },
  {
    left: 0, top: 376, width: 470, height: 377,
    padding: { left: 62.3, top: 65.8, right: 17.8, bottom: 62.8 },
    yMin: 0.16, yMax: 1.24, yTicks: A_TICKS, yTickLabels: A_TICK_LABELS, yLabelGap: 14,
    title: "POLRLS", yTitle: "a(time)",
    note: { text: "pol. order = 0", x: 540, y: 1.023 },
    estTime: TIME10,
    estimates: [POL_A1, POL_A2, POL_A3, POL_A4, POL_A5, POL_A6, POL_A7, POL_A8],
    trueTime: A_TRUE_TIME, trueVals: A_TRUE,
  },
  {
    left: 470, top: 376, width: 470, height: 377,
    padding: { left: 71.8, top: 65.8, right: 6.9, bottom: 62.8 },
    yMin: -0.4, yMax: 10.4, yTicks: B_TICKS, yTickLabels: B_TICK_LABELS, yLabelGap: 18,
    title: "POLRLS", yTitle: "b(time)",
    note: { text: "pol. order = 2", x: 617, y: 8.09 },
    estTime: TIME10,
    estimates: [POL_B1, POL_B2, POL_B3, POL_B4, POL_B5, POL_B6, POL_B7, POL_B8],
    trueTime: TIME10, trueVals: B_TRUE,
  },
];

export default function App() {
  return (
    <div
      style={{
        position: "fixed",
        left: 0,
        top: 0,
        width: 929,
        height: 753,
        overflow: "hidden",
        background: "#ffffff",
      }}
    >
      {PANELS.map((p, i) => (
        <Panel key={i} spec={p} />
      ))}
    </div>
  );
}
